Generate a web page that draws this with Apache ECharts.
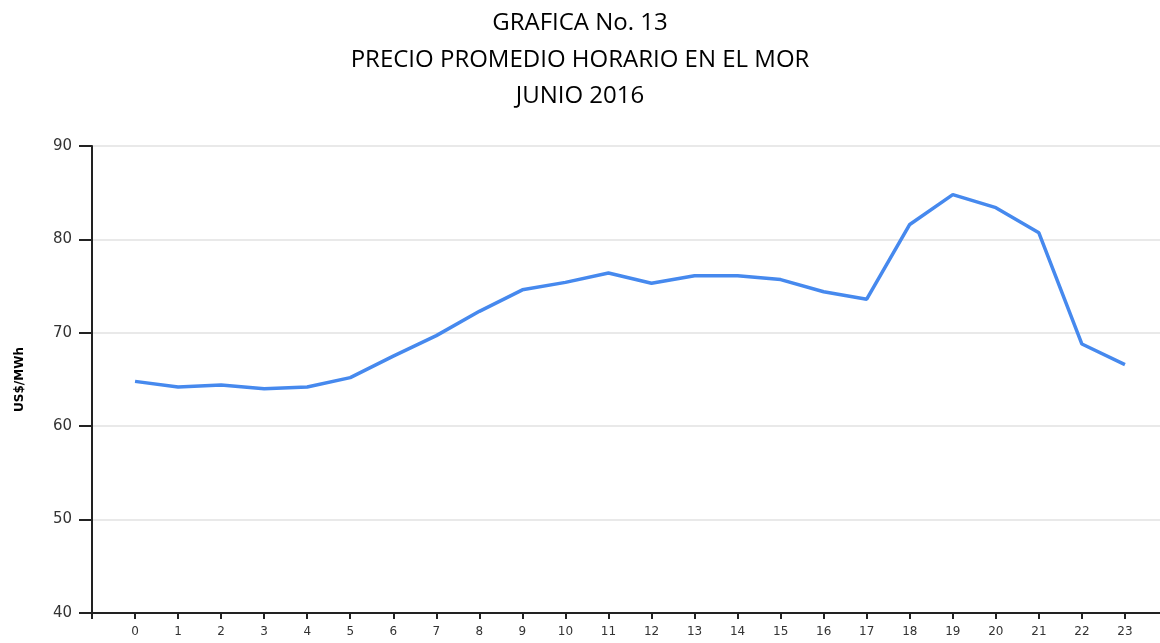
<!DOCTYPE html>
<html>
<head>
<meta charset="utf-8">
<script src="https://cdn.jsdelivr.net/npm/echarts@6/dist/echarts.min.js"></script>
<style>
  html, body { margin: 0; padding: 0; background: #fff; }
  #chart { width: 1160px; height: 643px; }
</style>
</head>
<body>
<div id="chart"></div>
<script>
// hourly average price, june 2016
const hours = [0, 1, 2, 3, 4, 5, 6, 7, 8, 9, 10, 11, 12, 13, 14, 15, 16, 17, 18, 19, 20, 21, 22, 23];
const prices = [64.8, 64.2, 64.4, 64.0, 64.2, 65.2, 67.5, 69.7, 72.3, 74.6, 75.4, 76.4, 75.3,
  76.1, 76.1, 75.7, 74.4, 73.6, 81.6, 84.8, 83.4, 80.7, 68.8, 66.6];
const titleLines = ["GRAFICA No. 13", "PRECIO PROMEDIO HORARIO EN EL MOR", "JUNIO 2016"];
const yName = "US$/MWh";

const chart = echarts.init(document.getElementById("chart"));
chart.setOption({
  animation: false,
  title: {
    text: titleLines.join("\n"),
    left: "center",
    top: 0,
    textStyle: {
      fontFamily: "Open Sans",
      fontWeight: "normal",
      fontSize: 24,
      lineHeight: 36.5,
      color: "#000"
    }
  },
  grid: { left: 92, top: 146, width: 1076, bottom: 30, outerBoundsMode: "none" },
  xAxis: {
    type: "value",
    min: -1,
    max: 24,
    interval: 1,
    splitLine: { show: false },
    axisLine: { onZero: false, lineStyle: { color: "#222", width: 2 } },
    axisTick: { length: 6, lineStyle: { color: "#222", width: 2 } },
    axisLabel: {
      margin: 13,
      fontSize: 12,
      fontFamily: "DejaVu Sans",
      color: "#333",
      formatter: v => (v >= 0 && v <= 23 ? String(v) : "")
    }
  },
  yAxis: {
    type: "value",
    min: 40,
    max: 90,
    interval: 10,
    name: yName,
    nameLocation: "middle",
    nameGap: 66,
    nameTextStyle: { fontWeight: "bold", fontSize: 12, fontFamily: "DejaVu Sans", color: "#000" },
    axisLine: { show: true, onZero: false, lineStyle: { color: "#222", width: 2 } },
    axisTick: { show: true, length: 13, lineStyle: { color: "#222", width: 2 } },
    axisLabel: { margin: 20, fontSize: 15, fontFamily: "DejaVu Sans", color: "#333" },
    splitLine: { lineStyle: { color: "#e2e2e2", width: 1.5 } }
  },
  series: [{
    type: "line",
    data: hours.map((h, i) => [h, prices[i]]),
    showSymbol: false,
    lineStyle: { color: "#4689ee", width: 3.5 }
  }]
});
</script>
</body>
</html>
